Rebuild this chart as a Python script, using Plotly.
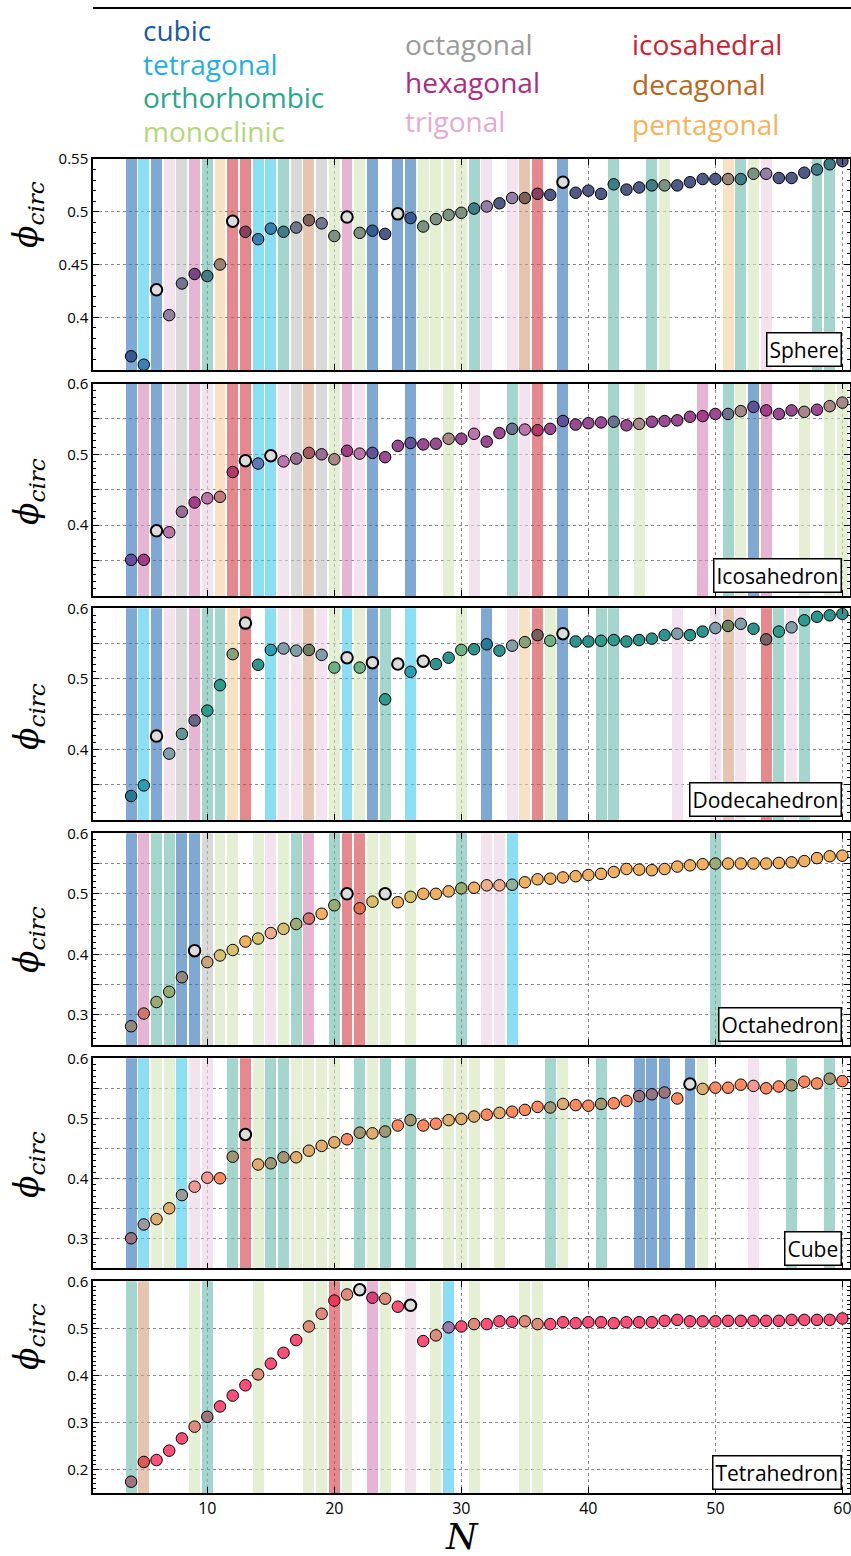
import plotly.graph_objects as go

W, H = 851, 1556
N = list(range(4, 61))

sphere_phi = [0.363, 0.355, 0.426, 0.402, 0.432, 0.441, 0.439, 0.450, 0.491, 0.481, 0.474, 0.484, 0.481, 0.485,
              0.492, 0.489, 0.477, 0.495, 0.480, 0.482, 0.479, 0.498, 0.494, 0.486, 0.493, 0.497, 0.499,
              0.503, 0.505, 0.508, 0.513, 0.513, 0.517, 0.516, 0.528, 0.518, 0.520, 0.517, 0.526, 0.521, 0.523,
              0.525, 0.525, 0.525, 0.528, 0.531, 0.531, 0.531, 0.531, 0.536, 0.536, 0.532, 0.532, 0.537, 0.540,
              0.545, 0.548]
icosa_phi = [0.351, 0.351, 0.392, 0.390, 0.419, 0.432, 0.438, 0.440, 0.475, 0.491, 0.487, 0.498, 0.490, 0.494,
             0.502, 0.500, 0.493, 0.505, 0.501, 0.502, 0.496, 0.512, 0.516, 0.514, 0.515, 0.522, 0.522,
             0.529, 0.518, 0.530, 0.536, 0.535, 0.534, 0.536, 0.547, 0.542, 0.544, 0.545, 0.546, 0.541, 0.543,
             0.546, 0.547, 0.548, 0.553, 0.554, 0.557, 0.557, 0.561, 0.567, 0.562, 0.557, 0.562, 0.560, 0.563,
             0.568, 0.573]
dodeca_phi = [0.334, 0.349, 0.419, 0.394, 0.422, 0.441, 0.455, 0.491, 0.535, 0.579, 0.520, 0.541, 0.543, 0.540,
              0.541, 0.534, 0.516, 0.530, 0.516, 0.523, 0.471, 0.521, 0.510, 0.525, 0.521, 0.530, 0.541,
              0.542, 0.549, 0.540, 0.547, 0.552, 0.562, 0.554, 0.564, 0.553, 0.553, 0.554, 0.555, 0.553, 0.555,
              0.557, 0.562, 0.564, 0.562, 0.567, 0.572, 0.575, 0.578, 0.571, 0.556, 0.567, 0.573, 0.583, 0.588,
              0.590, 0.592]
octa_phi = [0.281, 0.302, 0.321, 0.338, 0.362, 0.406, 0.387, 0.398, 0.407, 0.421, 0.426, 0.435, 0.442, 0.450,
            0.459, 0.467, 0.481, 0.500, 0.476, 0.487, 0.500, 0.486, 0.495, 0.500, 0.500, 0.504, 0.509,
            0.510, 0.514, 0.514, 0.515, 0.519, 0.524, 0.525, 0.527, 0.529, 0.531, 0.533, 0.536, 0.541, 0.540,
            0.539, 0.541, 0.545, 0.547, 0.549, 0.550, 0.550, 0.550, 0.550, 0.550, 0.551, 0.552, 0.554, 0.559,
            0.562, 0.563]
cube_phi = [0.300, 0.323, 0.332, 0.350, 0.372, 0.386, 0.401, 0.400, 0.436, 0.473, 0.423, 0.425, 0.435, 0.435,
            0.446, 0.454, 0.460, 0.465, 0.476, 0.475, 0.478, 0.488, 0.497, 0.488, 0.491, 0.497, 0.499,
            0.503, 0.506, 0.509, 0.511, 0.514, 0.519, 0.518, 0.524, 0.522, 0.521, 0.524, 0.525, 0.529, 0.537,
            0.540, 0.543, 0.533, 0.557, 0.549, 0.551, 0.551, 0.556, 0.554, 0.550, 0.553, 0.555, 0.561, 0.558,
            0.566, 0.562]
tetra_phi = [0.174, 0.216, 0.220, 0.240, 0.266, 0.291, 0.312, 0.334, 0.357, 0.379, 0.402, 0.425, 0.448, 0.475,
             0.504, 0.531, 0.559, 0.572, 0.582, 0.565, 0.563, 0.546, 0.549, 0.473, 0.485, 0.502, 0.504,
             0.509, 0.509, 0.515, 0.514, 0.515, 0.509, 0.509, 0.513, 0.511, 0.513, 0.513, 0.511, 0.513, 0.513,
             0.513, 0.516, 0.518, 0.515, 0.515, 0.515, 0.516, 0.516, 0.516, 0.516, 0.516, 0.518, 0.518, 0.518,
             0.518, 0.521]

# symmetry class of the best packing at each N (only where a band is drawn)
sphere_sym = {4: 'cub', 5: 'tet', 6: 'cub', 7: 'tri', 8: 'oct', 9: 'hex', 10: 'ort', 11: 'pen', 12: 'ico', 13: 'ico',
              14: 'tet', 15: 'tet', 16: 'ort', 17: 'oct', 18: 'dec', 19: 'oct', 20: 'mon', 21: 'hex', 22: 'mon',
              23: 'cub', 25: 'cub', 26: 'cub', 27: 'mon', 28: 'mon', 29: 'mon', 30: 'mon', 31: 'ort', 32: 'tri',
              34: 'tri', 35: 'dec', 36: 'ico', 38: 'cub', 42: 'ort', 45: 'ort', 46: 'mon', 51: 'pen', 52: 'ort',
              53: 'mon', 54: 'tri', 58: 'ort', 59: 'ort'}
icosa_sym = {4: 'cub', 5: 'hex', 6: 'cub', 7: 'tri', 8: 'oct', 9: 'hex', 10: 'tri', 11: 'pen', 12: 'ico', 13: 'ico',
             14: 'tet', 15: 'tet', 16: 'tri', 17: 'oct', 18: 'dec', 19: 'oct', 20: 'mon', 21: 'hex', 22: 'tri',
             23: 'cub', 26: 'cub', 29: 'mon', 31: 'tri', 34: 'ort', 35: 'tri', 36: 'ico', 38: 'cub', 42: 'ort',
             44: 'mon', 49: 'hex', 51: 'ort', 52: 'mon', 53: 'cub', 54: 'hex', 57: 'mon', 59: 'mon', 60: 'mon'}
dodeca_sym = {4: 'cub', 5: 'tet', 6: 'cub', 7: 'tri', 8: 'oct', 9: 'hex', 10: 'ort', 11: 'ort', 12: 'pen', 13: 'ico',
              15: 'tet', 16: 'tri', 17: 'tri', 18: 'dec', 19: 'tri', 20: 'mon', 21: 'tet', 22: 'mon', 23: 'cub',
              24: 'ort', 26: 'tet', 30: 'mon', 32: 'cub', 34: 'tri', 35: 'pen', 36: 'ico', 37: 'mon', 38: 'cub',
              41: 'ort', 42: 'ort', 47: 'tri', 50: 'tri', 51: 'dec', 52: 'tri', 54: 'ico', 55: 'ort', 56: 'tri',
              57: 'ort'}
octa_sym = {4: 'cub', 5: 'hex', 6: 'ort', 7: 'ort', 8: 'cub', 9: 'cub', 10: 'oct', 11: 'mon', 12: 'mon', 14: 'mon',
            15: 'tri', 16: 'mon', 17: 'ort', 18: 'hex', 20: 'ort', 21: 'ico', 22: 'ico', 23: 'mon', 24: 'mon',
            26: 'mon', 30: 'ort', 32: 'tri', 33: 'tri', 34: 'tet', 50: 'ort'}
cube_sym = {4: 'cub', 5: 'tet', 6: 'mon', 7: 'mon', 8: 'tet', 9: 'tri', 10: 'tri', 12: 'ort', 13: 'ico', 14: 'mon',
            15: 'ort', 16: 'ort', 17: 'mon', 18: 'mon', 19: 'mon', 20: 'mon', 22: 'ort', 23: 'mon', 24: 'ort',
            26: 'ort', 29: 'mon', 30: 'mon', 31: 'mon', 33: 'mon', 37: 'ort', 38: 'mon', 41: 'ort', 44: 'cub',
            45: 'cub', 46: 'cub', 48: 'cub', 49: 'mon', 53: 'tri', 56: 'ort', 59: 'ort'}
tetra_sym = {4: 'ort', 5: 'dec', 9: 'mon', 10: 'ort', 14: 'mon', 18: 'mon', 19: 'mon', 20: 'ico', 21: 'mon',
             23: 'hex', 24: 'mon', 26: 'tri', 28: 'mon', 29: 'tet', 31: 'mon', 35: 'mon', 36: 'mon'}

# N whose marker is drawn light gray
sphere_gray = [6, 12, 21, 25, 38]
icosa_gray = [6, 13, 15]
dodeca_gray = [6, 13, 21, 23, 25, 27, 38]
octa_gray = [9, 21, 24]
cube_gray = [13, 48]
tetra_gray = [22, 26]

panel_names = ['Sphere', 'Icosahedron', 'Dodecahedron', 'Octahedron', 'Cube', 'Tetrahedron']

class_names = ['cub', 'tet', 'ort', 'mon', 'oct', 'hex', 'tri', 'ico', 'dec', 'pen']
class_labels = ['cubic', 'tetragonal', 'orthorhombic', 'monoclinic', 'octagonal', 'hexagonal', 'trigonal',
                'icosahedral', 'decagonal', 'pentagonal']

# ---------------- styling ----------------
TEXT_COL = {'cub': '#1a5aa5', 'tet': '#1eaee8', 'ort': '#2aa68a', 'mon': '#b5d67a', 'oct': '#9a9a9a',
            'hex': '#b02a80', 'tri': '#e6aacc', 'ico': '#d0202e', 'dec': '#b8661e', 'pen': '#f4b35c'}
BAR_SEEN = {'cub': '#7fa9d3', 'tet': '#8adff5', 'ort': '#a5d6cd', 'mon': '#e4efd3', 'oct': '#d9d9d9',
            'hex': '#e8b4d4', 'tri': '#f3e3ee', 'ico': '#e5898f', 'dec': '#e5c5b0', 'pen': '#f8e2c3'}
BASE = ['#4f5b85', '#9a4a90', '#2e958c', '#f0b060', '#ff8a60', '#ff4f78']


def py(y):
    return 1 - y / H


def hx(c):
    c = c.lstrip('#')
    return [int(c[i:i + 2], 16) for i in (0, 2, 4)]


def mix(a, b, t):
    A, B = hx(a), hx(b)
    return '#%02x%02x%02x' % tuple(int(round(A[i] * (1 - t) + B[i] * t)) for i in range(3))


def rgba_from_seen(c, a=0.6):
    v = hx(c)
    r = [max(0, min(255, int(round((x - 255 * (1 - a)) / a)))) for x in v]
    return 'rgba(%d,%d,%d,%.2f)' % (r[0], r[1], r[2], a)


panels = [
    (sphere_phi, sphere_sym, sphere_gray, [0.35, 0.55],
     [0.4, 0.45, 0.5, 0.55], ['0.4', '0.45', '0.5', '0.55'], (159, 370), 215),
    (icosa_phi, icosa_sym, icosa_gray, [0.3, 0.6],
     [0.35, 0.4, 0.45, 0.5, 0.55, 0.6], ['', '0.4', '', '0.5', '', '0.6'], (383.5, 596), 492),
    (dodeca_phi, dodeca_sym, dodeca_gray, [0.3, 0.6],
     [0.35, 0.4, 0.45, 0.5, 0.55, 0.6], ['', '0.4', '', '0.5', '', '0.6'], (608.3, 820), 717),
    (octa_phi, octa_sym, octa_gray, [0.25, 0.6],
     [0.3, 0.35, 0.4, 0.45, 0.5, 0.55, 0.6], ['0.3', '', '0.4', '', '0.5', '', '0.6'], (833.3, 1045), 940),
    (cube_phi, cube_sym, cube_gray, [0.25, 0.6],
     [0.3, 0.35, 0.4, 0.45, 0.5, 0.55, 0.6], ['0.3', '', '0.4', '', '0.5', '', '0.6'], (1058.3, 1268.3), 1165),
    (tetra_phi, tetra_sym, tetra_gray, [0.15, 0.6],
     [0.2, 0.3, 0.4, 0.5, 0.6], ['0.2', '0.3', '0.4', '0.5', '0.6'], (1281.3, 1493), 1337),
]

fig = go.Figure()
layout = dict(width=W, height=H, margin=dict(l=0, r=0, t=0, b=0, autoexpand=False), paper_bgcolor='white',
              plot_bgcolor='white', showlegend=False, bargap=0)
annotations = []
xdom = [93 / W, 850 / W]
TICKFONT = dict(family='Open Sans', size=15, color='black')
GRID = '#8a8a8a'

for i, (phi, sym, gray, yr, tv, tt, (top, bot), lab_y) in enumerate(panels):
    k = '' if i == 0 else str(i + 1)
    xa, ya = 'x' + k, 'y' + k
    bx = [n for n in N if n in sym]
    fig.add_trace(go.Bar(x=bx, y=[yr[1] - yr[0]] * len(bx), base=[yr[0]] * len(bx), width=0.86,
                         marker=dict(color=[rgba_from_seen(BAR_SEEN[sym[n]]) for n in bx], line=dict(width=0)),
                         xaxis=xa, yaxis=ya, hoverinfo='skip'))
    cols, lw = [], []
    for n in N:
        if n in gray:
            cols.append('#dcdcdc'); lw.append(2)
        elif n in sym:
            cols.append(mix(BASE[i], TEXT_COL[sym[n]], 0.45)); lw.append(1)
        else:
            cols.append(BASE[i]); lw.append(1)
    fig.add_trace(go.Scatter(x=N, y=phi, mode='markers', xaxis=xa, yaxis=ya, cliponaxis=True,
                             marker=dict(size=11.5, color=cols, line=dict(color='black', width=lw))))
    last = (i == len(panels) - 1)
    layout['xaxis' + k] = dict(domain=xdom, range=[1, 60.6], anchor=ya, tickmode='array',
                               tickvals=[10, 20, 30, 40, 50, 60], showticklabels=last,
                               ticklabeloverflow='allow',
                               ticks='inside', ticklen=6, tickcolor='black', showline=True, linecolor='black',
                               linewidth=1.5, mirror='ticks', showgrid=True, gridcolor=GRID, griddash='dot',
                               gridwidth=1, zeroline=False, tickfont=dict(family='Open Sans', size=16, color='black'))
    layout['yaxis' + k] = dict(domain=[py(bot), py(top)], range=yr, anchor=xa, tickmode='array',
                               tickvals=tv, ticktext=tt, ticks='inside', ticklen=6, tickcolor='black',
                               ticklabeloverflow='allow',
                               showline=True, linecolor='black', linewidth=1.5, mirror='ticks', showgrid=True,
                               gridcolor=GRID, griddash='dot', gridwidth=1, zeroline=False, tickfont=TICKFONT,
                               minor=dict(tickmode='linear', tick0=0, dtick=0.01, ticks='inside', ticklen=3,
                                          tickcolor='black', showgrid=False))
    annotations.append(dict(xref=xa, yref=ya + ' domain', x=60, y=0.012, xanchor='right', yanchor='bottom',
                            text=panel_names[i], showarrow=False, bgcolor='white', bordercolor='black',
                            borderwidth=1.5, borderpad=2, font=dict(family='Open Sans', size=21, color='black')))
    annotations.append(dict(xref='paper', yref='paper', x=28 / W, y=py(lab_y), xanchor='center',
                            yanchor='middle', textangle=-90, showarrow=False,
                            text='<i>ϕ</i><sub><i>circ</i></sub>',
                            font=dict(family='DejaVu Serif', size=33, color='black')))

# legend as coloured words
leg_pos = [(143, 30), (143, 64), (143, 97), (143, 131), (405, 44), (405, 82), (405, 121),
           (632, 44), (632, 84), (632, 124)]
for c, lab, (px, pyy) in zip(class_names, class_labels, leg_pos):
    annotations.append(dict(xref='paper', yref='paper', x=(px - 2) / W, y=py(pyy), xanchor='left',
                            yanchor='middle', text=lab, showarrow=False,
                            font=dict(family='Open Sans', size=28, color=TEXT_COL[c])))

annotations.append(dict(xref='paper', yref='paper', x=462 / W, y=py(1536), xanchor='center', yanchor='middle',
                        text='<i>N</i>', showarrow=False,
                        font=dict(family='DejaVu Serif', size=36, color='black')))

layout['annotations'] = annotations
layout['shapes'] = [dict(type='line', xref='paper', yref='paper', x0=93 / W, x1=1, y0=py(8), y1=py(8),
                         line=dict(color='black', width=2))]
fig.update_layout(**layout)
fig.write_html('out.html')
